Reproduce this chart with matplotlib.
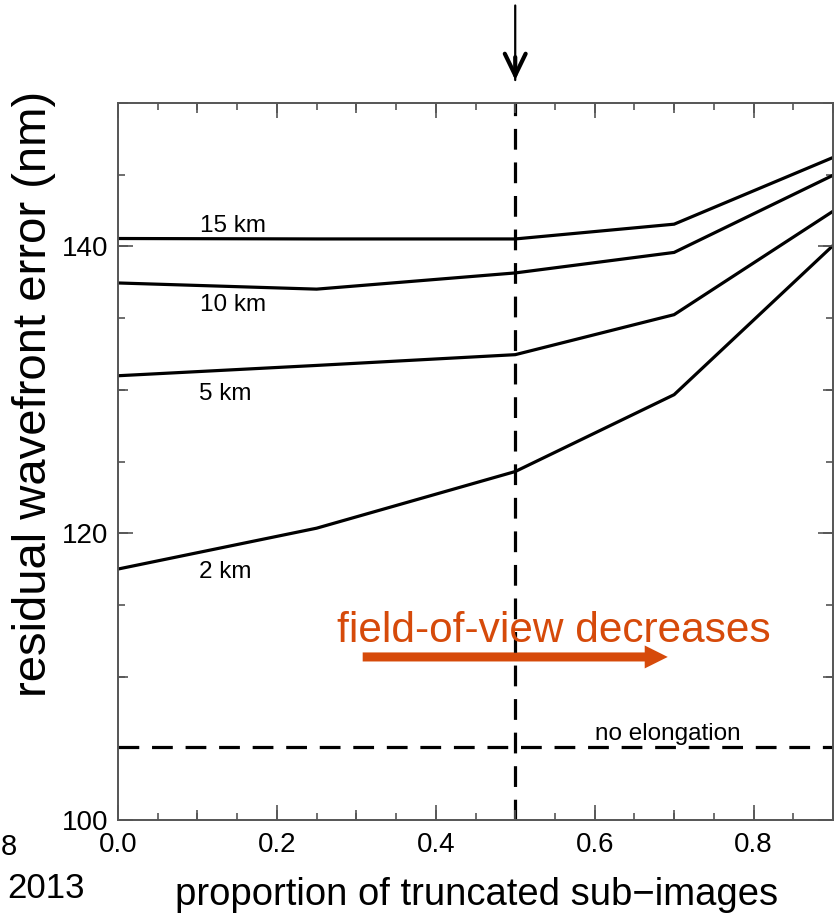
import matplotlib
matplotlib.use("Agg")
import matplotlib.pyplot as plt
from matplotlib.ticker import MultipleLocator, FuncFormatter

plt.rcParams['font.family'] = ['Liberation Sans', 'DejaVu Sans']

# ---- data ----
proportion = [0.0, 0.25, 0.5, 0.7, 0.9]
err_15km = [140.55, 140.52, 140.52, 141.55, 146.2]
err_10km = [137.45, 137.02, 138.15, 139.58, 144.96]
err_5km = [130.98, 131.7, 132.45, 135.24, 142.45]
err_2km = [117.5, 120.35, 124.3, 129.66, 140.06]
series_labels = ["15 km", "10 km", "5 km", "2 km"]
label_pos = [(0.103, 141.0), (0.103, 135.47), (0.102, 129.3), (0.102, 116.85)]
no_elongation = 105.1
chosen_proportion = 0.5

W, H = 839, 915
fig = plt.figure(figsize=(W / 100, H / 100), dpi=100)
pos = [118 / W, (H - 820) / H, 715 / W, 717 / H]
ax = fig.add_axes(pos)
ax2 = fig.add_axes(pos, frameon=False)

xlim = (0.0, 0.9)
ylim = (100, 150)
spine_c = '#555555'

for a in (ax, ax2):
    a.set_xlim(*xlim)
    a.set_ylim(*ylim)

# curves
for ys in (err_15km, err_10km, err_5km, err_2km):
    ax.plot(proportion, ys, color='black', lw=2.3, solid_joinstyle='miter')
for lab, (lx, ly) in zip(series_labels, label_pos):
    ax.text(lx, ly, lab, fontsize=17.5, ha='left', va='baseline')

dash = (0, (6.5, 4.0))
ax.axhline(no_elongation, color='black', lw=2.3, linestyle=dash)
ax.axvline(chosen_proportion, color='black', lw=2.3, linestyle=dash)
ax.text(0.601, 105.6, "no elongation", fontsize=17.5, ha='left', va='baseline')

# orange annotation
orange = '#D64A0A'
ax.text(0.2755, 112.4, "field-of-view decreases", fontsize=30.5, color=orange,
        ha='left', va='baseline')
ax.arrow(0.308, 111.37, 0.384, 0.0, width=0.63, head_width=1.6, head_length=0.029,
         length_includes_head=True, color=orange, lw=0)

# top arrow: thin shaft + bold open head
ax.annotate('', xy=(chosen_proportion, 151.6), xytext=(chosen_proportion, 156.8),
            annotation_clip=False,
            arrowprops=dict(arrowstyle='-', color='black', lw=1.6,
                            shrinkA=0, shrinkB=0))
ax.annotate('', xy=(chosen_proportion, 151.6), xytext=(chosen_proportion, 153.2),
            annotation_clip=False,
            arrowprops=dict(arrowstyle='->,head_length=1.55,head_width=0.75',
                            color='black', lw=3.0, shrinkA=0, shrinkB=0,
                            joinstyle='miter'))

# ticks: main axis
ax.xaxis.set_major_locator(MultipleLocator(0.2))
ax.xaxis.set_minor_locator(MultipleLocator(0.05))
ax.yaxis.set_major_locator(MultipleLocator(20))
ax.yaxis.set_minor_locator(MultipleLocator(5))
ax.xaxis.set_major_formatter(FuncFormatter(lambda v, p: f"{v:.1f}"))
ax.tick_params(which='major', direction='in', length=11, width=1.2, color=spine_c,
               top=True, right=True, labelsize=20, pad=9)
ax.tick_params(which='minor', direction='in', length=5, width=1.2, color=spine_c,
               top=True, right=True)
ax.tick_params(axis='y', which='major', pad=7)
for s in ax.spines.values():
    s.set_color(spine_c)
    s.set_linewidth(1.4)

# medium ticks on overlay
ax2.xaxis.set_major_locator(MultipleLocator(0.1))
ax2.yaxis.set_major_locator(MultipleLocator(10))
ax2.tick_params(which='major', direction='in', length=7.5, width=1.2, color=spine_c,
                top=True, right=True, bottom=True, left=True,
                labelbottom=False, labelleft=False)
ax2.xaxis.set_minor_locator(plt.NullLocator())
ax2.yaxis.set_minor_locator(plt.NullLocator())

# axis labels
fig.text(476.5 / W, 1 - 905 / H, "proportion of truncated sub\u2212images", fontsize=27.5,
         ha='center', va='baseline')
fig.text(34 / W, 1 - 394 / H, "residual wavefront error (nm)", fontsize=34,
         ha='center', va='center', rotation=90)

# slide residue text
fig.text(1 / W, 1 - 855 / H, "8", fontsize=21, ha='left', va='baseline')
fig.text(7 / W, 1 - 898 / H, "2013", fontsize=25, ha='left', va='baseline')

fig.savefig("out.png", dpi=100)
